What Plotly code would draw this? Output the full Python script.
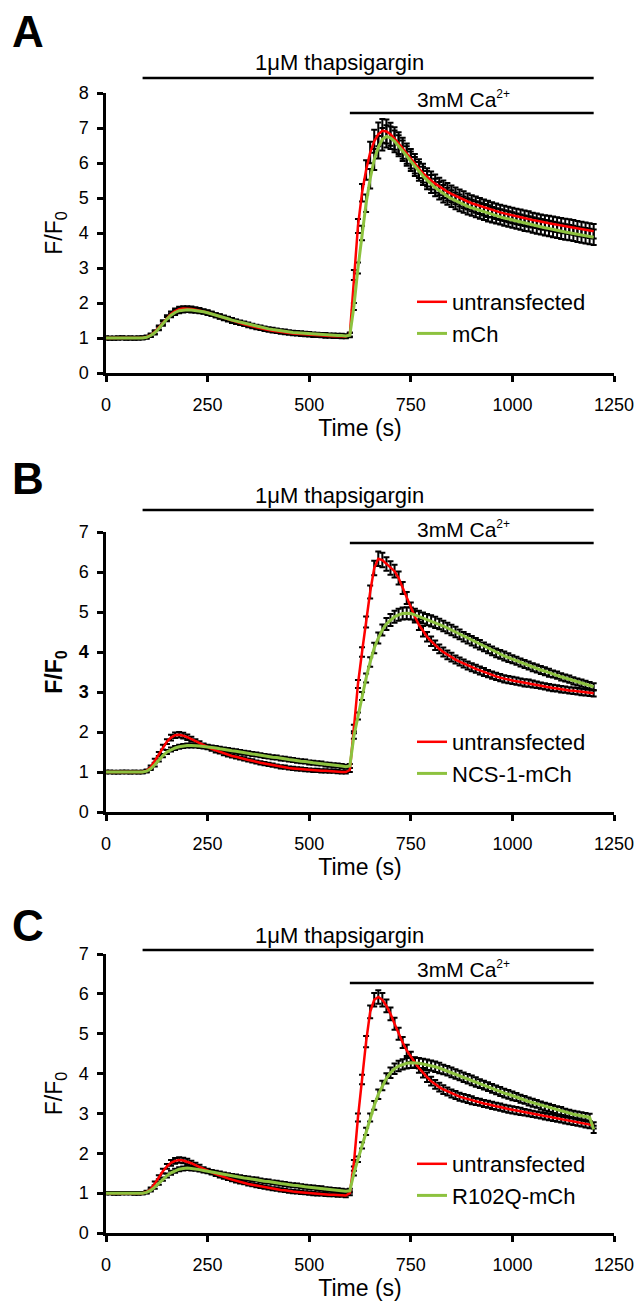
import plotly.graph_objects as go

W, H = 642, 1305

# ---------------- data ----------------
time_s = list(range(0, 1201, 10))

A_untransfected = [
    1.00, 1.00, 0.99, 1.00, 1.00, 0.99, 1.00, 1.00, 1.00, 1.01,
    1.03, 1.08, 1.17, 1.30, 1.45, 1.58, 1.69, 1.77, 1.82, 1.84,
    1.84, 1.83, 1.81, 1.79, 1.76, 1.73, 1.69, 1.65, 1.61, 1.57,
    1.53, 1.49, 1.46, 1.42, 1.39, 1.36, 1.33, 1.30, 1.28, 1.25,
    1.23, 1.21, 1.19, 1.17, 1.16, 1.14, 1.13, 1.12, 1.11, 1.10,
    1.09, 1.08, 1.08, 1.07, 1.06, 1.06, 1.05, 1.05, 1.04, 1.04,
    1.10, 2.80, 4.20, 5.15, 5.80, 6.30, 6.62, 6.82, 6.92, 6.90,
    6.82, 6.70, 6.57, 6.42, 6.27, 6.12, 5.98, 5.84, 5.71, 5.59,
    5.50, 5.41, 5.33, 5.25, 5.18, 5.12, 5.06, 5.00, 4.95, 4.90,
    4.85, 4.81, 4.77, 4.73, 4.69, 4.66, 4.62, 4.59, 4.56, 4.53,
    4.50, 4.47, 4.45, 4.42, 4.40, 4.37, 4.35, 4.32, 4.30, 4.28,
    4.26, 4.24, 4.22, 4.20, 4.18, 4.16, 4.13, 4.11, 4.09, 4.07,
    4.05]
A_untransfected_sem = [
    0.04, 0.04, 0.04, 0.04, 0.04, 0.04, 0.04, 0.04, 0.04, 0.04,
    0.04, 0.05, 0.05, 0.06, 0.06, 0.07, 0.07, 0.07, 0.07, 0.07,
    0.07, 0.07, 0.07, 0.07, 0.06, 0.06, 0.06, 0.06, 0.06, 0.06,
    0.06, 0.06, 0.06, 0.05, 0.05, 0.05, 0.05, 0.05, 0.05, 0.05,
    0.05, 0.05, 0.05, 0.05, 0.05, 0.05, 0.05, 0.05, 0.05, 0.05,
    0.05, 0.05, 0.05, 0.05, 0.05, 0.05, 0.05, 0.05, 0.05, 0.05,
    0.06, 0.14, 0.20, 0.25, 0.28, 0.31, 0.33, 0.34, 0.34, 0.34,
    0.33, 0.32, 0.31, 0.30, 0.29, 0.28, 0.28, 0.27, 0.27, 0.26,
    0.26, 0.26, 0.25, 0.25, 0.25, 0.24, 0.24, 0.24, 0.24, 0.23,
    0.23, 0.23, 0.23, 0.23, 0.23, 0.22, 0.22, 0.22, 0.22, 0.22,
    0.22, 0.22, 0.22, 0.22, 0.22, 0.21, 0.21, 0.21, 0.21, 0.21,
    0.21, 0.21, 0.21, 0.21, 0.21, 0.21, 0.21, 0.21, 0.21, 0.21,
    0.21]
A_mCh = [
    1.00, 0.99, 1.00, 1.00, 1.01, 1.00, 1.00, 0.99, 1.00, 1.00,
    1.02, 1.07, 1.15, 1.27, 1.41, 1.54, 1.65, 1.73, 1.78, 1.80,
    1.81, 1.80, 1.79, 1.77, 1.75, 1.72, 1.69, 1.65, 1.62, 1.58,
    1.55, 1.51, 1.48, 1.45, 1.42, 1.39, 1.36, 1.33, 1.31, 1.28,
    1.26, 1.24, 1.22, 1.20, 1.19, 1.17, 1.16, 1.15, 1.14, 1.13,
    1.12, 1.11, 1.10, 1.09, 1.09, 1.08, 1.08, 1.07, 1.07, 1.06,
    1.08, 1.90, 3.00, 4.00, 4.85, 5.55, 6.10, 6.45, 6.68, 6.76,
    6.72, 6.62, 6.49, 6.35, 6.20, 6.05, 5.90, 5.76, 5.63, 5.51,
    5.40, 5.30, 5.21, 5.12, 5.05, 4.98, 4.92, 4.86, 4.81, 4.76,
    4.72, 4.68, 4.64, 4.60, 4.56, 4.52, 4.49, 4.46, 4.43, 4.40,
    4.37, 4.34, 4.31, 4.28, 4.26, 4.23, 4.20, 4.18, 4.15, 4.13,
    4.10, 4.08, 4.05, 4.03, 4.01, 3.99, 3.96, 3.94, 3.92, 3.90,
    3.88]
A_mCh_sem = [
    0.04, 0.04, 0.04, 0.04, 0.04, 0.04, 0.04, 0.04, 0.04, 0.04,
    0.04, 0.04, 0.05, 0.05, 0.06, 0.06, 0.06, 0.07, 0.07, 0.07,
    0.07, 0.07, 0.07, 0.06, 0.06, 0.06, 0.06, 0.06, 0.06, 0.06,
    0.06, 0.06, 0.05, 0.05, 0.05, 0.05, 0.05, 0.05, 0.05, 0.05,
    0.05, 0.05, 0.05, 0.05, 0.05, 0.05, 0.05, 0.05, 0.05, 0.05,
    0.05, 0.05, 0.05, 0.05, 0.05, 0.05, 0.05, 0.05, 0.05, 0.05,
    0.06, 0.10, 0.16, 0.21, 0.25, 0.28, 0.30, 0.32, 0.32, 0.32,
    0.32, 0.31, 0.30, 0.29, 0.28, 0.28, 0.27, 0.27, 0.26, 0.26,
    0.26, 0.25, 0.25, 0.25, 0.24, 0.24, 0.24, 0.24, 0.23, 0.23,
    0.23, 0.23, 0.23, 0.23, 0.23, 0.22, 0.22, 0.22, 0.22, 0.22,
    0.22, 0.22, 0.22, 0.22, 0.22, 0.22, 0.22, 0.22, 0.22, 0.22,
    0.22, 0.22, 0.22, 0.22, 0.22, 0.22, 0.22, 0.22, 0.22, 0.22,
    0.22]

B_untransfected = [
    1.00, 1.00, 0.99, 1.00, 1.00, 1.00, 0.99, 1.00, 1.00, 1.00,
    1.03, 1.12, 1.28, 1.45, 1.62, 1.76, 1.86, 1.92, 1.93, 1.91,
    1.87, 1.82, 1.76, 1.71, 1.66, 1.62, 1.58, 1.54, 1.50, 1.46,
    1.43, 1.40, 1.38, 1.35, 1.33, 1.30, 1.28, 1.25, 1.23, 1.21,
    1.19, 1.17, 1.15, 1.13, 1.12, 1.10, 1.09, 1.08, 1.07, 1.06,
    1.05, 1.04, 1.04, 1.03, 1.03, 1.02, 1.02, 1.01, 1.00, 1.00,
    1.05, 2.10, 3.20, 4.00, 4.75, 5.50, 6.10, 6.33, 6.30, 6.20,
    6.10, 6.02, 5.85, 5.60, 5.35, 5.10, 4.88, 4.68, 4.52, 4.38,
    4.27, 4.17, 4.08, 4.00, 3.93, 3.87, 3.81, 3.76, 3.71, 3.66,
    3.62, 3.58, 3.54, 3.50, 3.46, 3.42, 3.39, 3.36, 3.33, 3.31,
    3.29, 3.27, 3.25, 3.23, 3.22, 3.20, 3.18, 3.16, 3.14, 3.12,
    3.10, 3.09, 3.07, 3.06, 3.04, 3.03, 3.02, 3.00, 2.99, 2.98,
    2.97]
B_untransfected_sem = [
    0.03, 0.03, 0.03, 0.03, 0.03, 0.03, 0.03, 0.03, 0.03, 0.03,
    0.03, 0.04, 0.05, 0.05, 0.06, 0.06, 0.07, 0.07, 0.07, 0.07,
    0.07, 0.06, 0.06, 0.06, 0.05, 0.05, 0.05, 0.05, 0.04, 0.04,
    0.04, 0.04, 0.04, 0.04, 0.04, 0.04, 0.04, 0.04, 0.04, 0.04,
    0.04, 0.04, 0.04, 0.04, 0.04, 0.04, 0.04, 0.04, 0.04, 0.04,
    0.04, 0.04, 0.04, 0.04, 0.04, 0.04, 0.04, 0.04, 0.04, 0.04,
    0.05, 0.08, 0.10, 0.12, 0.14, 0.16, 0.18, 0.18, 0.18, 0.17,
    0.17, 0.16, 0.16, 0.15, 0.15, 0.14, 0.14, 0.13, 0.13, 0.12,
    0.12, 0.12, 0.11, 0.11, 0.11, 0.11, 0.10, 0.10, 0.10, 0.10,
    0.10, 0.10, 0.10, 0.10, 0.09, 0.09, 0.09, 0.09, 0.09, 0.09,
    0.09, 0.09, 0.09, 0.09, 0.09, 0.09, 0.08, 0.08, 0.08, 0.08,
    0.08, 0.08, 0.08, 0.08, 0.08, 0.08, 0.08, 0.08, 0.08, 0.08,
    0.08]
B_NCS1_mCh = [
    1.00, 1.00, 1.00, 0.99, 1.00, 1.00, 1.00, 1.00, 0.99, 1.00,
    1.02, 1.08, 1.18, 1.30, 1.41, 1.50, 1.56, 1.60, 1.63, 1.65,
    1.66, 1.66, 1.66, 1.65, 1.64, 1.63, 1.61, 1.60, 1.58, 1.56,
    1.55, 1.53, 1.52, 1.50, 1.48, 1.47, 1.45, 1.44, 1.42, 1.40,
    1.39, 1.37, 1.36, 1.34, 1.33, 1.31, 1.30, 1.28, 1.27, 1.26,
    1.24, 1.23, 1.22, 1.21, 1.19, 1.18, 1.17, 1.16, 1.15, 1.13,
    1.15, 1.90, 2.40, 2.90, 3.35, 3.75, 4.10, 4.35, 4.55, 4.70,
    4.80, 4.88, 4.93, 4.96, 4.97, 4.96, 4.93, 4.89, 4.85, 4.81,
    4.78, 4.74, 4.70, 4.65, 4.60, 4.55, 4.50, 4.44, 4.38, 4.33,
    4.28, 4.23, 4.18, 4.13, 4.08, 4.03, 3.98, 3.94, 3.90, 3.86,
    3.82, 3.78, 3.74, 3.70, 3.66, 3.62, 3.59, 3.55, 3.52, 3.48,
    3.45, 3.42, 3.38, 3.35, 3.32, 3.28, 3.25, 3.22, 3.19, 3.16,
    3.13]
B_NCS1_mCh_sem = [
    0.03, 0.03, 0.03, 0.03, 0.03, 0.03, 0.03, 0.03, 0.03, 0.03,
    0.03, 0.03, 0.04, 0.04, 0.04, 0.05, 0.05, 0.05, 0.05, 0.05,
    0.05, 0.05, 0.05, 0.05, 0.05, 0.05, 0.05, 0.05, 0.05, 0.05,
    0.05, 0.05, 0.05, 0.05, 0.05, 0.05, 0.05, 0.05, 0.05, 0.05,
    0.05, 0.05, 0.05, 0.05, 0.05, 0.05, 0.05, 0.05, 0.05, 0.05,
    0.05, 0.05, 0.05, 0.05, 0.05, 0.05, 0.05, 0.05, 0.05, 0.05,
    0.05, 0.07, 0.09, 0.10, 0.11, 0.12, 0.13, 0.14, 0.14, 0.15,
    0.15, 0.15, 0.15, 0.15, 0.15, 0.15, 0.15, 0.14, 0.14, 0.14,
    0.14, 0.14, 0.13, 0.13, 0.13, 0.13, 0.13, 0.12, 0.12, 0.12,
    0.12, 0.12, 0.12, 0.11, 0.11, 0.11, 0.11, 0.11, 0.11, 0.11,
    0.10, 0.10, 0.10, 0.10, 0.10, 0.10, 0.10, 0.10, 0.10, 0.10,
    0.09, 0.09, 0.09, 0.09, 0.09, 0.09, 0.09, 0.09, 0.09, 0.09,
    0.09]

C_untransfected = [
    1.00, 1.00, 1.00, 0.99, 1.00, 1.00, 1.00, 0.99, 1.00, 1.00,
    1.03, 1.10, 1.24, 1.40, 1.55, 1.67, 1.76, 1.81, 1.83, 1.82,
    1.79, 1.75, 1.70, 1.65, 1.60, 1.56, 1.52, 1.48, 1.44, 1.40,
    1.37, 1.34, 1.31, 1.28, 1.26, 1.23, 1.21, 1.19, 1.17, 1.15,
    1.13, 1.11, 1.10, 1.08, 1.07, 1.05, 1.04, 1.03, 1.02, 1.01,
    1.00, 0.99, 0.98, 0.98, 0.97, 0.96, 0.96, 0.95, 0.95, 0.94,
    1.00, 1.75, 2.90, 3.85, 4.80, 5.55, 5.85, 5.92, 5.85, 5.70,
    5.50, 5.25, 5.00, 4.78, 4.58, 4.42, 4.28, 4.14, 4.02, 3.91,
    3.81, 3.73, 3.66, 3.60, 3.55, 3.50, 3.46, 3.42, 3.39, 3.36,
    3.33, 3.30, 3.28, 3.25, 3.23, 3.20, 3.18, 3.16, 3.13, 3.11,
    3.09, 3.07, 3.05, 3.03, 3.01, 2.99, 2.97, 2.95, 2.93, 2.91,
    2.89, 2.87, 2.85, 2.83, 2.81, 2.79, 2.77, 2.75, 2.73, 2.71,
    2.70]
C_untransfected_sem = [
    0.03, 0.03, 0.03, 0.03, 0.03, 0.03, 0.03, 0.03, 0.03, 0.03,
    0.03, 0.04, 0.05, 0.05, 0.06, 0.06, 0.07, 0.07, 0.07, 0.07,
    0.07, 0.06, 0.06, 0.06, 0.05, 0.05, 0.05, 0.05, 0.05, 0.04,
    0.04, 0.04, 0.04, 0.04, 0.04, 0.04, 0.04, 0.04, 0.04, 0.04,
    0.04, 0.04, 0.04, 0.04, 0.04, 0.04, 0.04, 0.04, 0.04, 0.04,
    0.04, 0.04, 0.04, 0.04, 0.04, 0.04, 0.04, 0.04, 0.04, 0.04,
    0.05, 0.08, 0.10, 0.12, 0.14, 0.16, 0.17, 0.17, 0.17, 0.16,
    0.16, 0.15, 0.15, 0.14, 0.14, 0.13, 0.13, 0.12, 0.12, 0.12,
    0.11, 0.11, 0.11, 0.11, 0.10, 0.10, 0.10, 0.10, 0.10, 0.10,
    0.10, 0.09, 0.09, 0.09, 0.09, 0.09, 0.09, 0.09, 0.09, 0.09,
    0.09, 0.09, 0.09, 0.08, 0.08, 0.08, 0.08, 0.08, 0.08, 0.08,
    0.08, 0.08, 0.08, 0.08, 0.08, 0.08, 0.08, 0.08, 0.08, 0.08,
    0.08]
C_R102Q_mCh = [
    1.00, 1.00, 0.99, 1.00, 1.00, 1.00, 1.00, 1.00, 0.99, 1.00,
    1.02, 1.07, 1.15, 1.25, 1.35, 1.44, 1.51, 1.56, 1.60, 1.62,
    1.63, 1.62, 1.61, 1.59, 1.57, 1.55, 1.53, 1.51, 1.49, 1.47,
    1.45, 1.43, 1.42, 1.40, 1.38, 1.37, 1.35, 1.34, 1.32, 1.30,
    1.29, 1.27, 1.26, 1.24, 1.23, 1.21, 1.20, 1.19, 1.17, 1.16,
    1.15, 1.14, 1.13, 1.12, 1.10, 1.09, 1.08, 1.07, 1.06, 1.05,
    1.06, 1.50, 1.85, 2.20, 2.55, 2.90, 3.20, 3.48, 3.70, 3.88,
    4.02, 4.12, 4.19, 4.23, 4.26, 4.27, 4.27, 4.26, 4.24, 4.22,
    4.20, 4.17, 4.14, 4.10, 4.07, 4.03, 3.99, 3.95, 3.91, 3.87,
    3.83, 3.79, 3.75, 3.71, 3.67, 3.63, 3.59, 3.55, 3.51, 3.48,
    3.44, 3.41, 3.37, 3.34, 3.30, 3.27, 3.24, 3.20, 3.17, 3.14,
    3.11, 3.08, 3.06, 3.03, 3.00, 2.98, 2.96, 2.94, 2.92, 2.90,
    2.60]
C_R102Q_mCh_sem = [
    0.03, 0.03, 0.03, 0.03, 0.03, 0.03, 0.03, 0.03, 0.03, 0.03,
    0.03, 0.03, 0.04, 0.04, 0.04, 0.05, 0.05, 0.05, 0.05, 0.05,
    0.05, 0.05, 0.05, 0.05, 0.05, 0.05, 0.05, 0.05, 0.05, 0.05,
    0.05, 0.05, 0.05, 0.05, 0.05, 0.05, 0.05, 0.05, 0.05, 0.05,
    0.05, 0.05, 0.05, 0.05, 0.05, 0.05, 0.05, 0.05, 0.05, 0.05,
    0.05, 0.05, 0.05, 0.05, 0.05, 0.05, 0.05, 0.05, 0.05, 0.05,
    0.05, 0.06, 0.07, 0.08, 0.09, 0.10, 0.11, 0.12, 0.12, 0.13,
    0.13, 0.13, 0.13, 0.13, 0.13, 0.13, 0.13, 0.13, 0.13, 0.13,
    0.13, 0.13, 0.13, 0.12, 0.12, 0.12, 0.12, 0.12, 0.12, 0.12,
    0.12, 0.12, 0.11, 0.11, 0.11, 0.11, 0.11, 0.11, 0.11, 0.11,
    0.11, 0.10, 0.10, 0.10, 0.10, 0.10, 0.10, 0.10, 0.10, 0.10,
    0.10, 0.10, 0.10, 0.09, 0.09, 0.09, 0.09, 0.09, 0.09, 0.09,
    0.09]

panel_letters = ["A", "B", "C"]
legend_names = [["untransfected", "mCh"],
                ["untransfected", "NCS-1-mCh"],
                ["untransfected", "R102Q-mCh"]]
series = [[(A_untransfected, A_untransfected_sem), (A_mCh, A_mCh_sem)],
          [(B_untransfected, B_untransfected_sem), (B_NCS1_mCh, B_NCS1_mCh_sem)],
          [(C_untransfected, C_untransfected_sem), (C_R102Q_mCh, C_R102Q_mCh_sem)]]
y_max = [8, 7, 7]
x_ticks = [0, 250, 500, 750, 1000, 1250]
thapsigargin_on = [90, 1200]
calcium_on = [600, 1200]
label_thap = "1\u03bcM thapsigargin"
label_ca = "3mM Ca<sup><span style='font-size:12px'>2+</span></sup>"

# ---------------- layout helpers ----------------
def py(px):
    return 1 - px / H

FONT = "Liberation Sans, Arial, sans-serif"
RED = "#FF0000"
GREEN = "#8DC23F"

x_dom = [106 / W, 614 / W]
# (plot top px, plot bottom px)
panel_px = [(93, 373), (532, 812), (954, 1233)]
letter_px = [31, 478, 925]
thap_bar_px = [78, 510, 950]
ca_bar_px = [113, 543, 983]
legend_top_px = [281, 721, 1143]

fig = go.Figure()

for p in range(3):
    xa = "x" if p == 0 else f"x{p + 1}"
    ya = "y" if p == 0 else f"y{p + 1}"
    lg = "legend" if p == 0 else f"legend{p + 1}"
    colors = [RED, GREEN]
    # error bars first (below all lines)
    for (vals, sem), col in zip(series[p], colors):
        fig.add_trace(go.Scatter(
            x=time_s, y=vals, mode="markers",
            marker=dict(size=1, color="rgba(0,0,0,0)"),
            error_y=dict(type="data", array=sem, visible=True,
                         color="black", thickness=2, width=3),
            xaxis=xa, yaxis=ya, showlegend=False, hoverinfo="skip"))
    for (vals, sem), col, name, lw in zip(series[p], colors, legend_names[p], [2.5, 3]):
        fig.add_trace(go.Scatter(
            x=time_s, y=vals, mode="lines", name=name,
            line=dict(color=col, width=lw),
            xaxis=xa, yaxis=ya, legend=lg))

layout = dict(
    template="none",
    width=W, height=H, autosize=False,
    margin=dict(l=0, r=0, t=0, b=0, pad=0),
    paper_bgcolor="white", plot_bgcolor="white",
    font=dict(family=FONT, color="black", size=22),
    showlegend=True,
)

annotations = []
shapes = []
for p in range(3):
    suffix = "" if p == 0 else str(p + 1)
    top, bot = panel_px[p]
    bold = (p == 1)
    ytitle = "<b>F/F<sub>0</sub></b>" if bold else "F/F<sub>0</sub>"
    yticks = list(range(0, y_max[p] + 1))
    ytext = [f"<b>{v}</b>" if (bold and v in (3, 4)) else str(v) for v in yticks]
    layout["xaxis" + suffix] = dict(
        domain=x_dom, range=[0, 1250], anchor="y" + suffix, automargin=False,
        tickvals=x_ticks, ticktext=[str(v) for v in x_ticks],
        showline=True, linewidth=2.5, linecolor="black", mirror=False,
        ticks="outside", ticklen=6, tickwidth=2.5, tickcolor="black",
        ticklabelstandoff=8,
        showgrid=False, zeroline=False,
        tickfont=dict(size=18, family=FONT, color="black"),
        title=dict(text="Time (s)", font=dict(size=23, family=FONT, color="black"), standoff=6),
    )
    layout["yaxis" + suffix] = dict(
        domain=[py(bot), py(top)], range=[0, y_max[p]], anchor="x" + suffix, automargin=False,
        tickvals=yticks, ticktext=ytext,
        showline=True, linewidth=2.5, linecolor="black", mirror=False,
        ticks="outside", ticklen=6, tickwidth=2.5, tickcolor="black",
        ticklabelstandoff=5,
        showgrid=False, zeroline=False,
        tickfont=dict(size=18, family=FONT, color="black"),
        title=dict(text=ytitle, font=dict(size=23, family=FONT, color="black"), standoff=10),
    )
    layout["legend" + suffix] = dict(
        x=412 / W, xanchor="left", y=py(legend_top_px[p]), yanchor="top",
        bgcolor="rgba(0,0,0,0)", borderwidth=0,
        font=dict(size=22, family=FONT, color="black"), tracegroupgap=0, itemwidth=30,
    )
    xref = "x" + suffix
    shapes.append(dict(type="line", xref=xref, yref="paper",
                       x0=thapsigargin_on[0], x1=thapsigargin_on[1],
                       y0=py(thap_bar_px[p]), y1=py(thap_bar_px[p]),
                       line=dict(color="black", width=2.5)))
    shapes.append(dict(type="line", xref=xref, yref="paper",
                       x0=calcium_on[0], x1=calcium_on[1],
                       y0=py(ca_bar_px[p]), y1=py(ca_bar_px[p]),
                       line=dict(color="black", width=2.5)))
    annotations.append(dict(text=label_thap, xref=xref, yref="paper",
                            x=575, y=py(thap_bar_px[p] - 15),
                            showarrow=False, font=dict(size=22, family=FONT, color="black"),
                            xanchor="center", yanchor="middle"))
    annotations.append(dict(text=label_ca, xref=xref, yref="paper",
                            x=880, y=py(ca_bar_px[p] - 14),
                            showarrow=False, font=dict(size=21, family=FONT, color="black"),
                            xanchor="center", yanchor="middle"))
    annotations.append(dict(text="<b>" + panel_letters[p] + "</b>",
                            xref="paper", yref="paper",
                            x=28 / W, y=py(letter_px[p]),
                            showarrow=False, font=dict(size=44, family=FONT, color="black"),
                            xanchor="center", yanchor="middle"))

layout["annotations"] = annotations
layout["shapes"] = shapes
fig.update_layout(**layout)

fig.write_html("out.html", config={"displayModeBar": False},
               post_script="document.body.style.margin='0';")
